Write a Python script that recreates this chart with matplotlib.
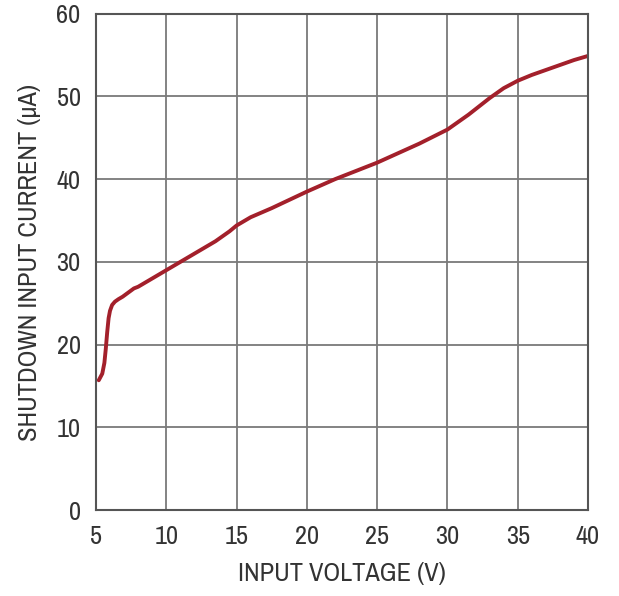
import matplotlib.pyplot as plt
from matplotlib import font_manager

# shutdown input current vs input voltage
voltage = [5.2, 5.45, 5.6, 5.7, 5.8, 5.9, 6.0, 6.15, 6.35, 6.6, 6.9, 7.3, 7.7, 8.0, 9.0,
           10.0, 11.0, 12.0, 13.5, 14.5, 15.0, 16.0, 17.5, 20.0, 22.0, 25.0, 28.0, 30.0,
           31.5, 33.0, 34.0, 35.0, 36.0, 37.5, 39.0, 40.0]
current = [15.7, 16.5, 17.8, 19.5, 21.5, 23.2, 24.1, 24.8, 25.2, 25.5, 25.8, 26.3, 26.8, 27.0, 28.0,
           29.0, 30.0, 31.0, 32.5, 33.7, 34.4, 35.4, 36.5, 38.5, 40.0, 42.0, 44.3, 46.0,
           47.8, 49.8, 51.0, 51.9, 52.6, 53.5, 54.4, 54.9]

xticks = [5, 10, 15, 20, 25, 30, 35, 40]
yticks = [0, 10, 20, 30, 40, 50, 60]

# prefer a narrow face if one is around
fonts = font_manager.fontManager.ttflist
narrow = [f.name for f in fonts if 'Narrow' in f.name or 'Condensed' in f.name]
if narrow:
    family, stretch, size = narrow[0], 'normal', 19
elif any(f.name == 'DejaVu Sans' and f.stretch == 'condensed' for f in fonts):
    family, stretch, size = 'DejaVu Sans', 'condensed', 16
else:
    family, stretch, size = 'Liberation Sans', 'normal', 17
plt.rcParams['font.family'] = [family, 'DejaVu Sans']
plt.rcParams['font.stretch'] = stretch

fig = plt.figure(figsize=(6.19, 5.96), dpi=100)
ax = fig.add_axes([0.155, 0.144, 0.795, 0.833])

ax.plot(voltage, current, color='#a3202b', linewidth=2.8, solid_capstyle='round')

ax.set_xlim(5, 40)
ax.set_ylim(0, 60)
ax.set_xticks(xticks)
ax.set_yticks(yticks)
ax.grid(True, color='#7a7a7a', linewidth=1.3)
ax.tick_params(length=0, labelsize=size, labelcolor='#333333')
ax.tick_params(axis='x', pad=11)
ax.tick_params(axis='y', pad=11)
for s in ax.spines.values():
    s.set_color('#555555')
    s.set_linewidth(1.5)

ax.set_xlabel('INPUT VOLTAGE (V)', fontsize=size, color='#333333', labelpad=10)
ax.set_ylabel('SHUTDOWN INPUT CURRENT (µA)', fontsize=size, color='#333333', labelpad=11)

fig.savefig('out.png', dpi=100)
